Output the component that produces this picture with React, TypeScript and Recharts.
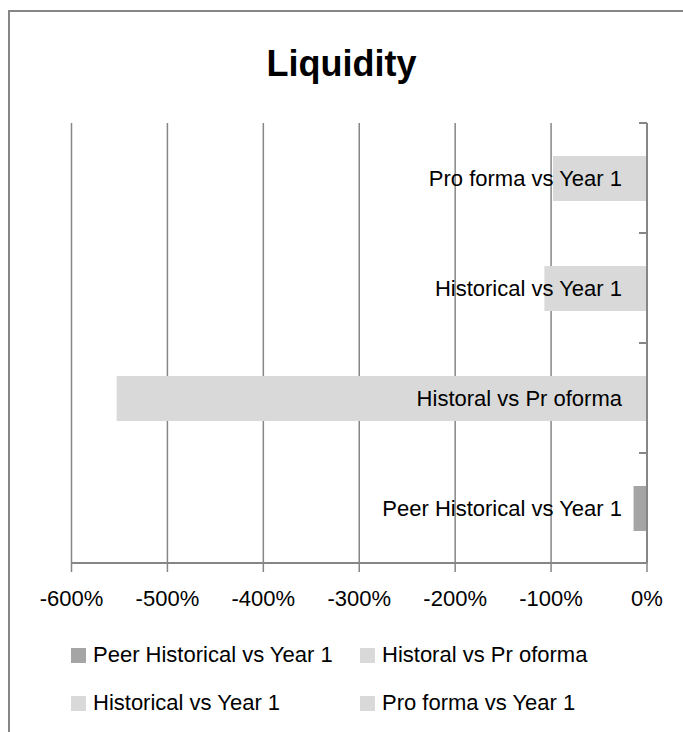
import { Bar, BarChart, CartesianGrid, XAxis, YAxis } from "recharts";

// Excel series order (first series is drawn at the bottom)
const categories = [
  "Peer Historical vs Year 1",
  "Historal vs Pr oforma",
  "Historical vs Year 1",
  "Pro forma vs Year 1",
];
const seriesKeys = ["peer", "historalProforma", "historicalYear1", "proformaYear1"];
const seriesValues = [-0.14, -5.53, -1.07, -0.98];
const seriesColors = ["#a5a5a5", "#d9d9d9", "#d9d9d9", "#d9d9d9"];
const xTicks = [-6, -5, -4, -3, -2, -1, 0];

const chartData = categories.map((name, i) => ({ name, [seriesKeys[i]]: seriesValues[i] }));

const axisGray = "#868686";
const font = "'Liberation Sans', Arial, sans-serif";
const labelGap = 25;
const markLen = 8;

// category label plus Excel-style tick marks between categories
function CategoryTick(props: any) {
  const { x, y, payload } = props;
  const axisX = x + labelGap;
  const half = payload.offset ?? 0;
  return (
    <g>
      <line x1={axisX - markLen} x2={axisX} y1={y - half} y2={y - half} stroke={axisGray} strokeWidth={2} />
      <line x1={axisX - markLen} x2={axisX} y1={y + half} y2={y + half} stroke={axisGray} strokeWidth={2} />
      <text x={x} y={y} textAnchor="end" dominantBaseline="central" fontSize={22} fill="#000">
        {payload.value}
      </text>
    </g>
  );
}

function LegendBlock() {
  return (
    <div
      style={{
        position: "absolute",
        left: 71,
        top: 640,
        width: 580,
        display: "grid",
        gridTemplateColumns: "289px 280px",
        rowGap: 18,
        fontSize: 22,
        color: "#000",
      }}
    >
      {categories.map((name, i) => (
        <div key={name} style={{ display: "flex", alignItems: "center", height: 30 }}>
          <span style={{ width: 15, height: 15, background: seriesColors[i], marginRight: 7, flex: "none" }} />
          <span style={{ whiteSpace: "nowrap" }}>{name}</span>
        </div>
      ))}
    </div>
  );
}

export default function App() {
  return (
    <div
      style={{
        position: "absolute",
        left: 0,
        top: 0,
        width: 683,
        height: 732,
        overflow: "hidden",
        background: "#fff",
        fontFamily: font,
      }}
    >
      <div
        style={{
          position: "absolute",
          left: 8,
          top: 10,
          width: 760,
          height: 800,
          border: `2px solid ${axisGray}`,
        }}
      />
      <div
        style={{
          position: "absolute",
          left: 0,
          top: 46,
          width: 683,
          textAlign: "center",
          fontSize: 36,
          lineHeight: "36px",
          fontWeight: "bold",
          color: "#000",
        }}
      >
        Liquidity
      </div>
      <div style={{ position: "absolute", left: 0, top: 0 }}>
        <BarChart
          width={683}
          height={732}
          data={chartData}
          layout="vertical"
          margin={{ top: 123, right: 36, left: 71.5, bottom: 109 }}
          barSize={45}
        >
          <CartesianGrid horizontal={false} stroke={axisGray} strokeWidth={1.5} />
          <XAxis
            type="number"
            domain={[-6, 0]}
            ticks={xTicks}
            allowDataOverflow
            height={60}
            tickSize={9}
            tickMargin={18}
            axisLine={{ stroke: axisGray, strokeWidth: 2 }}
            tickLine={{ stroke: axisGray, strokeWidth: 1.5 }}
            tick={{ fill: "#000", fontSize: 22 }}
            tickFormatter={(v: number) => `${Math.round(v * 100)}%`}
          />
          <YAxis
            type="category"
            dataKey="name"
            orientation="right"
            mirror
            reversed
            width={560}
            tickSize={0}
            tickMargin={labelGap}
            axisLine={{ stroke: axisGray, strokeWidth: 2 }}
            tickLine={false}
            tick={<CategoryTick />}
          />
          {seriesKeys.map((key, i) => (
            <Bar
              key={key}
              dataKey={key}
              name={categories[i]}
              stackId="a"
              fill={seriesColors[i]}
              isAnimationActive={false}
            />
          ))}
        </BarChart>
      </div>
      <LegendBlock />
    </div>
  );
}
